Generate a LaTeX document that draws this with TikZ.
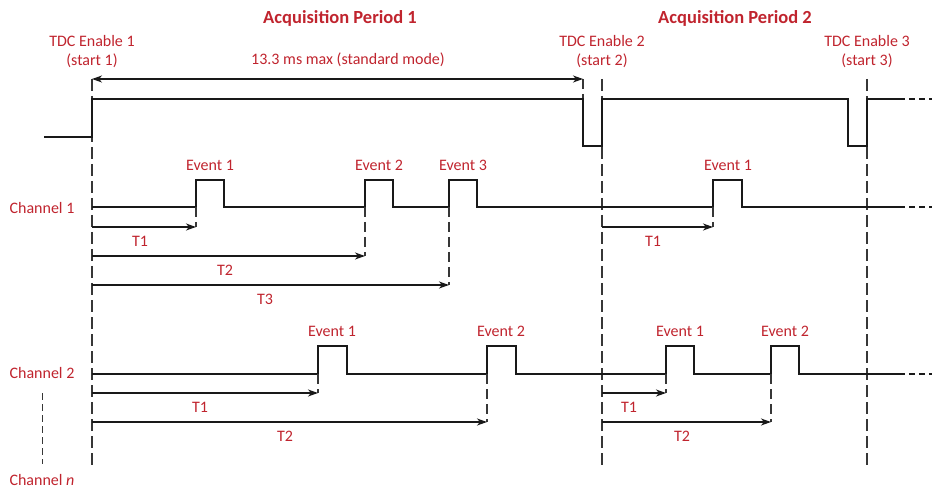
\documentclass[tikz,border=0pt]{standalone}
\usepackage{fontspec}
\setmainfont{Carlito}
\usetikzlibrary{arrows.meta}
\definecolor{lbl}{RGB}{192,36,46}
\definecolor{ln}{RGB}{25,25,25}
\definecolor{dln}{RGB}{55,55,55}
\begin{document}
\begin{tikzpicture}[x=1pt,y=-1pt,
  lab/.style={text=lbl,font=\fontsize{16}{19}\selectfont,inner sep=0pt,align=center},
  ttl/.style={text=lbl,font=\fontsize{18.5}{22}\selectfont\bfseries,inner sep=0pt},
  sig/.style={draw=ln,line width=1.4pt},
  sigend/.style={draw=ln,line width=1.4pt,dash pattern=on 6pt off 4pt},
  mainv/.style={draw=dln,line width=1.5pt,dash pattern=on 12pt off 5pt},
  evv/.style={draw=dln,line width=1.2pt,dash pattern=on 10pt off 5pt},
  tarr/.style={draw=ln,line width=1.3pt,-{Stealth[length=10pt,width=7pt,inset=3pt]}},
  darr/.style={draw=ln,line width=1.3pt,{Stealth[length=10pt,width=7pt,inset=3pt]}-{Stealth[length=10pt,width=7pt,inset=3pt]}}]
\useasboundingbox (0,0) rectangle (932,489);

% titles
\node[ttl] (ap1) at (340,18) {Acquisition Period 1};
\node[ttl] (ap2) at (735,18) {Acquisition Period 2};
\node[lab] (en1) at (92,52) {TDC Enable 1\\(start 1)};
\node[lab] (en2) at (602,52) {TDC Enable 2\\(start 2)};
\node[lab] (en3) at (867,52) {TDC Enable 3\\(start 3)};
\node[lab] (max) at (348,60) {13.3 ms max (standard mode)};

% start coordinates
\coordinate (s1t) at (92,79);
\coordinate (s1b) at (92,465);
\coordinate (s2t) at (602,79);
\coordinate (s2b) at (602,465);
\coordinate (s3t) at (867,79);
\coordinate (s3b) at (867,465);
\coordinate (m2t) at (583,79);
\coordinate (m2b) at (583,99);

\draw[mainv] (s1t) -- (s1b);
\draw[mainv] (s2t) -- (s2b);
\draw[mainv] (s3t) -- (s3b);
\draw[evv] (m2t) -- (m2b);
\draw[darr] (s1t) -- (m2t);

% enable signal
\draw[sig] (44,137) -- (92,137) -- (92,99) -- (583,99) -- (583,146) -- (602,146) -- (602,99)
  -- (848,99) -- (848,146) -- (867,146) -- (867,99) -- (905,99);
\draw[sigend] (909,99) -- (932,99);

% channel 1
\node[lab] (ch1) at (42,208) {Channel 1};
\draw[sig] (92,207) -- (196,207) -- (196,180) -- (224,180) -- (224,207)
  -- (365,207) -- (365,180) -- (393,180) -- (393,207)
  -- (449,207) -- (449,180) -- (477,180) -- (477,207)
  -- (713,207) -- (713,180) -- (742,180) -- (742,207) -- (905,207);
\draw[sigend] (909,207) -- (932,207);
\node[lab] (c1e1) at (210,165) {Event 1};
\node[lab] (c1e2) at (379,165) {Event 2};
\node[lab] (c1e3) at (463,165) {Event 3};
\node[lab] (c1e4) at (728,165) {Event 1};

\coordinate (a1s) at (92,227);  \coordinate (a1e) at (196,227);
\coordinate (a2s) at (92,256);  \coordinate (a2e) at (365,256);
\coordinate (a3s) at (92,285);  \coordinate (a3e) at (449,285);
\coordinate (a4s) at (602,227); \coordinate (a4e) at (713,227);
\draw[evv] (196,207) -- (a1e);
\draw[evv] (365,207) -- (a2e);
\draw[evv] (449,207) -- (a3e);
\draw[evv] (713,207) -- (a4e);
\draw[tarr] (a1s) -- (a1e);
\draw[tarr] (a2s) -- (a2e);
\draw[tarr] (a3s) -- (a3e);
\draw[tarr] (a4s) -- (a4e);
\node[lab] (c1t1) at (140,241) {T1};
\node[lab] (c1t2) at (225,270) {T2};
\node[lab] (c1t3) at (265,299) {T3};
\node[lab] (c1t4) at (653,241) {T1};

% channel 2
\node[lab] (ch2) at (42,373) {Channel 2};
\draw[sig] (92,374) -- (318,374) -- (318,346) -- (347,346) -- (347,374)
  -- (487,374) -- (487,346) -- (516,346) -- (516,374)
  -- (666,374) -- (666,346) -- (694,346) -- (694,374)
  -- (771,374) -- (771,346) -- (799,346) -- (799,374) -- (905,374);
\draw[sigend] (909,374) -- (932,374);
\node[lab] (c2e1) at (332,331) {Event 1};
\node[lab] (c2e2) at (501,331) {Event 2};
\node[lab] (c2e3) at (680,331) {Event 1};
\node[lab] (c2e4) at (785,331) {Event 2};

\coordinate (b1s) at (92,393);  \coordinate (b1e) at (318,393);
\coordinate (b2s) at (92,422);  \coordinate (b2e) at (487,422);
\coordinate (b3s) at (602,393); \coordinate (b3e) at (666,393);
\coordinate (b4s) at (602,422); \coordinate (b4e) at (771,422);
\draw[evv] (318,374) -- (b1e);
\draw[evv] (487,374) -- (b2e);
\draw[evv] (666,374) -- (b3e);
\draw[evv] (771,374) -- (b4e);
\draw[tarr] (b1s) -- (b1e);
\draw[tarr] (b2s) -- (b2e);
\draw[tarr] (b3s) -- (b3e);
\draw[tarr] (b4s) -- (b4e);
\node[lab] (c2t1) at (200,407) {T1};
\node[lab] (c2t2) at (285,436) {T2};
\node[lab] (c2t3) at (629,407) {T1};
\node[lab] (c2t4) at (682,436) {T2};

% channel n
\coordinate (cnt) at (42,393);
\coordinate (cnb) at (42,464);
\draw[draw=dln,line width=1pt,dash pattern=on 7pt off 4pt] (cnt) -- (cnb);
\node[lab] (chn) at (42,480) {Channel \textit{n}};
\end{tikzpicture}
\end{document}
